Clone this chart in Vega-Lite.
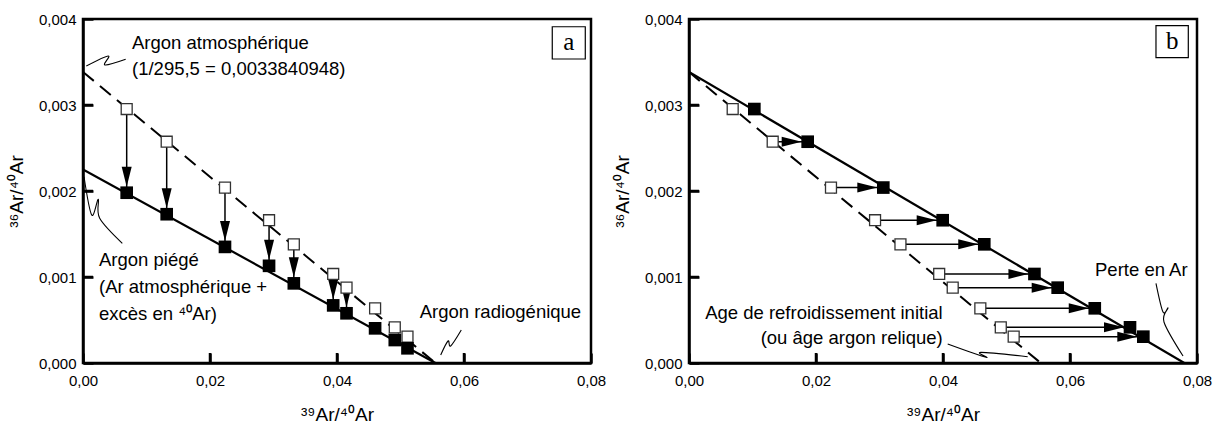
{
  "$schema": "https://vega.github.io/schema/vega-lite/v6.json",
  "padding": {"left": 6, "top": 10, "right": 0, "bottom": 0},
  "background": "white",
  "spacing": 5,
  "config": {
    "view": {"stroke": "black", "strokeWidth": 2.5},
    "axis": {
      "grid": false,
      "domainColor": "black",
      "domainWidth": 2.5,
      "ticks": true,
      "tickColor": "black",
      "tickWidth": 2.5,
      "tickSize": -10,
      "labelFlush": false,
      "labelFont": "Liberation Sans",
      "labelFontSize": 15,
      "labelColor": "black",
      "titleFont": "Liberation Sans",
      "titleFontSize": 19,
      "titleFontWeight": "normal",
      "titleColor": "black"
    },
    "axisX": {"labelPadding": 20, "titlePadding": 17},
    "axisY": {"labelPadding": 17, "titlePadding": 12},
    "text": {"font": "Liberation Sans", "fontSize": 18.5, "color": "black"}
  },
  "datasets": {
    "squares": [
      {"panel": "a", "kind": "open", "x": 0.00688, "y": 0.002953},
      {"panel": "a", "kind": "open", "x": 0.01318, "y": 0.002573},
      {"panel": "a", "kind": "open", "x": 0.02236, "y": 0.00204},
      {"panel": "a", "kind": "open", "x": 0.0293, "y": 0.00166},
      {"panel": "a", "kind": "open", "x": 0.0332, "y": 0.00138},
      {"panel": "a", "kind": "open", "x": 0.0394, "y": 0.001035},
      {"panel": "a", "kind": "open", "x": 0.0415, "y": 0.000876},
      {"panel": "a", "kind": "open", "x": 0.046, "y": 0.000636},
      {"panel": "a", "kind": "open", "x": 0.0491, "y": 0.000415},
      {"panel": "a", "kind": "open", "x": 0.0511, "y": 0.000306},
      {"panel": "a", "kind": "filled", "x": 0.00688, "y": 0.00198},
      {"panel": "a", "kind": "filled", "x": 0.01318, "y": 0.00173},
      {"panel": "a", "kind": "filled", "x": 0.02236, "y": 0.00135},
      {"panel": "a", "kind": "filled", "x": 0.0293, "y": 0.00113},
      {"panel": "a", "kind": "filled", "x": 0.0332, "y": 0.000926},
      {"panel": "a", "kind": "filled", "x": 0.0394, "y": 0.00067},
      {"panel": "a", "kind": "filled", "x": 0.0415, "y": 0.000578},
      {"panel": "a", "kind": "filled", "x": 0.046, "y": 0.000403},
      {"panel": "a", "kind": "filled", "x": 0.0491, "y": 0.000267},
      {"panel": "a", "kind": "filled", "x": 0.0511, "y": 0.000171},
      {"panel": "b", "kind": "open", "x": 0.00688, "y": 0.002953},
      {"panel": "b", "kind": "open", "x": 0.01318, "y": 0.002573},
      {"panel": "b", "kind": "open", "x": 0.02236, "y": 0.00204},
      {"panel": "b", "kind": "open", "x": 0.0293, "y": 0.00166},
      {"panel": "b", "kind": "open", "x": 0.0333, "y": 0.00138},
      {"panel": "b", "kind": "open", "x": 0.0394, "y": 0.001035},
      {"panel": "b", "kind": "open", "x": 0.04153, "y": 0.000876},
      {"panel": "b", "kind": "open", "x": 0.04588, "y": 0.000636},
      {"panel": "b", "kind": "open", "x": 0.0491, "y": 0.000415},
      {"panel": "b", "kind": "open", "x": 0.05113, "y": 0.000306},
      {"panel": "b", "kind": "filled", "x": 0.01029, "y": 0.002953},
      {"panel": "b", "kind": "filled", "x": 0.01869, "y": 0.002573},
      {"panel": "b", "kind": "filled", "x": 0.0306, "y": 0.00204},
      {"panel": "b", "kind": "filled", "x": 0.03995, "y": 0.00166},
      {"panel": "b", "kind": "filled", "x": 0.0465, "y": 0.00138},
      {"panel": "b", "kind": "filled", "x": 0.0544, "y": 0.001035},
      {"panel": "b", "kind": "filled", "x": 0.05806, "y": 0.000876},
      {"panel": "b", "kind": "filled", "x": 0.0639, "y": 0.000636},
      {"panel": "b", "kind": "filled", "x": 0.06945, "y": 0.000415},
      {"panel": "b", "kind": "filled", "x": 0.07155, "y": 0.000306}
    ],
    "lines": [
      {"panel": "a", "line": "dashed", "x": 0, "y": 0.003384},
      {"panel": "a", "line": "dashed", "x": 0.0555, "y": 0},
      {"panel": "a", "line": "solid", "x": 0, "y": 0.00225},
      {"panel": "a", "line": "solid", "x": 0.0555, "y": 0},
      {"panel": "b", "line": "dashed", "x": 0, "y": 0.003384},
      {"panel": "b", "line": "dashed", "x": 0.0554, "y": 0},
      {"panel": "b", "line": "solid", "x": 0, "y": 0.003384},
      {"panel": "b", "line": "solid", "x": 0.078, "y": 0}
    ],
    "arrows": [
      {"panel": "a", "x": 0.00688, "x2": 0.00688, "y": 0.002953, "y2": 0.00198},
      {"panel": "a", "x": 0.01318, "x2": 0.01318, "y": 0.002573, "y2": 0.00173},
      {"panel": "a", "x": 0.02236, "x2": 0.02236, "y": 0.00204, "y2": 0.00135},
      {"panel": "a", "x": 0.0293, "x2": 0.0293, "y": 0.00166, "y2": 0.00113},
      {"panel": "a", "x": 0.0332, "x2": 0.0332, "y": 0.00138, "y2": 0.000926},
      {"panel": "a", "x": 0.0394, "x2": 0.0394, "y": 0.001035, "y2": 0.00067},
      {"panel": "a", "x": 0.0415, "x2": 0.0415, "y": 0.000876, "y2": 0.000578},
      {"panel": "b", "x": 0.01318, "x2": 0.01869, "y": 0.002573, "y2": 0.002573},
      {"panel": "b", "x": 0.02236, "x2": 0.0306, "y": 0.00204, "y2": 0.00204},
      {"panel": "b", "x": 0.0293, "x2": 0.03995, "y": 0.00166, "y2": 0.00166},
      {"panel": "b", "x": 0.0333, "x2": 0.0465, "y": 0.00138, "y2": 0.00138},
      {"panel": "b", "x": 0.0394, "x2": 0.0544, "y": 0.001035, "y2": 0.001035},
      {"panel": "b", "x": 0.04153, "x2": 0.05806, "y": 0.000876, "y2": 0.000876},
      {"panel": "b", "x": 0.04588, "x2": 0.0639, "y": 0.000636, "y2": 0.000636},
      {"panel": "b", "x": 0.0491, "x2": 0.06945, "y": 0.000415, "y2": 0.000415},
      {"panel": "b", "x": 0.05113, "x2": 0.07155, "y": 0.000306, "y2": 0.000306}
    ],
    "leaders": [
      {"panel": "a", "id": "atm", "o": 1, "x": 0.00052, "y": 0.003453},
      {"panel": "a", "id": "atm", "o": 2, "x": 0.00398, "y": 0.00357},
      {"panel": "a", "id": "atm", "o": 3, "x": 0.00346, "y": 0.003465},
      {"panel": "a", "id": "atm", "o": 4, "x": 0.00672, "y": 0.003531},
      {"panel": "a", "id": "pie", "o": 1, "x": 0.00016, "y": 0.002166},
      {"panel": "a", "id": "pie", "o": 2, "x": 0.00137, "y": 0.001721},
      {"panel": "a", "id": "pie", "o": 3, "x": 0.00241, "y": 0.001903},
      {"panel": "a", "id": "pie", "o": 4, "x": 0.00263, "y": 0.001683},
      {"panel": "a", "id": "pie", "o": 5, "x": 0.00619, "y": 0.001392},
      {"panel": "a", "id": "rad", "o": 1, "x": 0.05633, "y": 0.000093},
      {"panel": "a", "id": "rad", "o": 2, "x": 0.05748, "y": 0.000256},
      {"panel": "a", "id": "rad", "o": 3, "x": 0.0579, "y": 0.000198},
      {"panel": "a", "id": "rad", "o": 4, "x": 0.05957, "y": 0.000384},
      {"panel": "b", "id": "age", "o": 1, "x": 0.04074, "y": 0.000221},
      {"panel": "b", "id": "age", "o": 2, "x": 0.04677, "y": 0.000066},
      {"panel": "b", "id": "age", "o": 3, "x": 0.04598, "y": 0.000124},
      {"panel": "b", "id": "age", "o": 4, "x": 0.05334, "y": 0.000073},
      {"panel": "b", "id": "per", "o": 1, "x": 0.07354, "y": 0.000927},
      {"panel": "b", "id": "per", "o": 2, "x": 0.07465, "y": 0.000593},
      {"panel": "b", "id": "per", "o": 3, "x": 0.07543, "y": 0.00064},
      {"panel": "b", "id": "per", "o": 4, "x": 0.0748, "y": 0.000477},
      {"panel": "b", "id": "per", "o": 5, "x": 0.0778, "y": 0.000081}
    ],
    "labels": [
      {"panel": "a", "align": "left", "text": "Argon atmosphérique", "x": 0.00772, "y": 0.003651},
      {"panel": "a", "align": "left", "text": "(1/295,5 = 0,0033840948)", "x": 0.00772, "y": 0.003349},
      {"panel": "a", "align": "left", "text": "Argon piégé", "x": 0.00252, "y": 0.001128},
      {"panel": "a", "align": "left", "text": "(Ar atmosphérique +", "x": 0.00252, "y": 0.000814},
      {"panel": "a", "align": "left", "text": "excès en ⁴⁰Ar)", "x": 0.00252, "y": 0.0005},
      {"panel": "a", "align": "left", "text": "Argon radiogénique", "x": 0.05302, "y": 0.000523},
      {"panel": "b", "align": "left", "text": "Perte en Ar", "x": 0.06394, "y": 0.001012},
      {"panel": "b", "align": "right", "text": "Age de refroidissement initial", "x": 0.03995, "y": 0.000512},
      {"panel": "b", "align": "right", "text": "(ou âge argon relique)", "x": 0.03995, "y": 0.000221}
    ],
    "boxes": [
      {"panel": "a", "lab": "a", "x": 0.0739, "x2": 0.0791, "y": 0.003535, "y2": 0.00391, "xm": 0.0765, "ym": 0.003722},
      {"panel": "b", "lab": "b", "x": 0.07354, "x2": 0.07863, "y": 0.00355, "y2": 0.003922, "xm": 0.076085, "ym": 0.003736}
    ]
  },
  "hconcat": [
    {
      "width": 508,
      "height": 344,
      "layer": [
        {
          "data": {"name": "lines"},
          "transform": [{"filter": "datum.panel === 'a' && datum.line === 'dashed'"}],
          "mark": {"type": "line", "color": "black", "strokeWidth": 2, "strokeDash": [14, 8], "clip": true},
          "encoding": {
            "x": {"field": "x", "type": "quantitative", "scale": {"domain": [0, 0.08], "nice": false}, "axis": {"values": [0, 0.02, 0.04, 0.06, 0.08], "labelExpr": "replace(format(datum.value, '.2f'), '.', ',')", "title": "³⁹Ar/⁴⁰Ar"}},
            "y": {"field": "y", "type": "quantitative", "scale": {"domain": [0, 0.004], "nice": false}, "axis": {"values": [0, 0.001, 0.002, 0.003, 0.004], "labelExpr": "replace(format(datum.value, '.3f'), '.', ',')", "title": "³⁶Ar/⁴⁰Ar"}}
          }
        },
        {
          "data": {"values": [{"tv": 0.02, "tb": 0}, {"tv": 0.04, "tb": 0}, {"tv": 0.06, "tb": 0}]},
          "mark": {"type": "point", "shape": "M0,0L0,-1", "size": 400, "filled": false, "stroke": "black", "strokeWidth": 2.5, "opacity": 1},
          "encoding": {
            "x": {"field": "tv", "type": "quantitative"},
            "y": {"field": "tb", "type": "quantitative"}
          }
        },
        {
          "data": {"values": [{"tv": 0.001, "tb": 0}, {"tv": 0.002, "tb": 0}, {"tv": 0.003, "tb": 0}]},
          "mark": {"type": "point", "shape": "M0,0L1,0", "size": 400, "filled": false, "stroke": "black", "strokeWidth": 2.5, "opacity": 1},
          "encoding": {
            "x": {"field": "tb", "type": "quantitative"},
            "y": {"field": "tv", "type": "quantitative"}
          }
        },
        {
          "data": {"name": "lines"},
          "transform": [{"filter": "datum.panel === 'a' && datum.line === 'solid'"}],
          "mark": {"type": "line", "color": "black", "strokeWidth": 2.2, "clip": true},
          "encoding": {
            "x": {"field": "x", "type": "quantitative"},
            "y": {"field": "y", "type": "quantitative"}
          }
        },
        {
          "data": {"name": "leaders"},
          "transform": [{"filter": "datum.panel === 'a'"}],
          "mark": {"type": "line", "color": "black", "strokeWidth": 1.1, "interpolate": "cardinal"},
          "encoding": {
            "x": {"field": "x", "type": "quantitative"},
            "y": {"field": "y", "type": "quantitative"},
            "detail": {"field": "id"},
            "order": {"field": "o"}
          }
        },
        {
          "data": {"name": "arrows"},
          "transform": [{"filter": "datum.panel === 'a'"}],
          "mark": {"type": "rule", "color": "black", "strokeWidth": 1.5},
          "encoding": {
            "x": {"field": "x", "type": "quantitative"},
            "y": {"field": "y", "type": "quantitative"},
            "y2": {"field": "y2"}
          }
        },
        {
          "data": {"name": "arrows"},
          "transform": [{"filter": "datum.panel === 'a'"}],
          "mark": {"type": "point", "shape": "M-0.5,-1L0.5,-1L0,1Z", "size": 400, "filled": true, "color": "black", "opacity": 1, "yOffset": -16},
          "encoding": {
            "x": {"field": "x2", "type": "quantitative"},
            "y": {"field": "y2", "type": "quantitative"}
          }
        },
        {
          "data": {"name": "squares"},
          "transform": [{"filter": "datum.panel === 'a' && datum.kind === 'open'"}],
          "mark": {"type": "point", "shape": "square", "size": 120, "filled": true, "fill": "white", "stroke": "#333", "strokeWidth": 1.3, "opacity": 1},
          "encoding": {
            "x": {"field": "x", "type": "quantitative"},
            "y": {"field": "y", "type": "quantitative"}
          }
        },
        {
          "data": {"name": "squares"},
          "transform": [{"filter": "datum.panel === 'a' && datum.kind === 'filled'"}],
          "mark": {"type": "point", "shape": "square", "size": 160, "filled": true, "color": "black", "opacity": 1},
          "encoding": {
            "x": {"field": "x", "type": "quantitative"},
            "y": {"field": "y", "type": "quantitative"}
          }
        },
        {
          "data": {"name": "labels"},
          "transform": [{"filter": "datum.panel === 'a'"}],
          "mark": {"type": "text", "align": "left", "baseline": "alphabetic"},
          "encoding": {
            "x": {"field": "x", "type": "quantitative"},
            "y": {"field": "y", "type": "quantitative"},
            "text": {"field": "text"}
          }
        },
        {
          "data": {"name": "boxes"},
          "transform": [{"filter": "datum.panel === 'a'"}],
          "mark": {"type": "rect", "fill": "white", "stroke": "black", "strokeWidth": 1.2},
          "encoding": {
            "x": {"field": "x", "type": "quantitative"},
            "x2": {"field": "x2"},
            "y": {"field": "y", "type": "quantitative"},
            "y2": {"field": "y2"}
          }
        },
        {
          "data": {"name": "boxes"},
          "transform": [{"filter": "datum.panel === 'a'"}],
          "mark": {"type": "text", "font": "Liberation Serif", "fontSize": 25, "align": "center", "baseline": "middle", "dy": -1},
          "encoding": {
            "x": {"field": "xm", "type": "quantitative"},
            "y": {"field": "ym", "type": "quantitative"},
            "text": {"field": "lab"}
          }
        }
      ]
    },
    {
      "width": 508,
      "height": 344,
      "layer": [
        {
          "data": {"name": "lines"},
          "transform": [{"filter": "datum.panel === 'b' && datum.line === 'dashed'"}],
          "mark": {"type": "line", "color": "black", "strokeWidth": 2, "strokeDash": [14, 8], "clip": true},
          "encoding": {
            "x": {"field": "x", "type": "quantitative", "scale": {"domain": [0, 0.08], "nice": false}, "axis": {"values": [0, 0.02, 0.04, 0.06, 0.08], "labelExpr": "replace(format(datum.value, '.2f'), '.', ',')", "title": "³⁹Ar/⁴⁰Ar"}},
            "y": {"field": "y", "type": "quantitative", "scale": {"domain": [0, 0.004], "nice": false}, "axis": {"values": [0, 0.001, 0.002, 0.003, 0.004], "labelExpr": "replace(format(datum.value, '.3f'), '.', ',')", "title": "³⁶Ar/⁴⁰Ar"}}
          }
        },
        {
          "data": {"values": [{"tv": 0.02, "tb": 0}, {"tv": 0.04, "tb": 0}, {"tv": 0.06, "tb": 0}]},
          "mark": {"type": "point", "shape": "M0,0L0,-1", "size": 400, "filled": false, "stroke": "black", "strokeWidth": 2.5, "opacity": 1},
          "encoding": {
            "x": {"field": "tv", "type": "quantitative"},
            "y": {"field": "tb", "type": "quantitative"}
          }
        },
        {
          "data": {"values": [{"tv": 0.001, "tb": 0}, {"tv": 0.002, "tb": 0}, {"tv": 0.003, "tb": 0}]},
          "mark": {"type": "point", "shape": "M0,0L1,0", "size": 400, "filled": false, "stroke": "black", "strokeWidth": 2.5, "opacity": 1},
          "encoding": {
            "x": {"field": "tb", "type": "quantitative"},
            "y": {"field": "tv", "type": "quantitative"}
          }
        },
        {
          "data": {"name": "lines"},
          "transform": [{"filter": "datum.panel === 'b' && datum.line === 'solid'"}],
          "mark": {"type": "line", "color": "black", "strokeWidth": 2.2, "clip": true},
          "encoding": {
            "x": {"field": "x", "type": "quantitative"},
            "y": {"field": "y", "type": "quantitative"}
          }
        },
        {
          "data": {"name": "leaders"},
          "transform": [{"filter": "datum.panel === 'b'"}],
          "mark": {"type": "line", "color": "black", "strokeWidth": 1.1, "interpolate": "cardinal"},
          "encoding": {
            "x": {"field": "x", "type": "quantitative"},
            "y": {"field": "y", "type": "quantitative"},
            "detail": {"field": "id"},
            "order": {"field": "o"}
          }
        },
        {
          "data": {"name": "arrows"},
          "transform": [{"filter": "datum.panel === 'b'"}],
          "mark": {"type": "rule", "color": "black", "strokeWidth": 1.5},
          "encoding": {
            "x": {"field": "x", "type": "quantitative"},
            "x2": {"field": "x2"},
            "y": {"field": "y", "type": "quantitative"}
          }
        },
        {
          "data": {"name": "arrows"},
          "transform": [{"filter": "datum.panel === 'b'"}],
          "mark": {"type": "point", "shape": "M-1,-0.5L1,0L-1,0.5Z", "size": 400, "filled": true, "color": "black", "opacity": 1, "xOffset": -16},
          "encoding": {
            "x": {"field": "x2", "type": "quantitative"},
            "y": {"field": "y2", "type": "quantitative"}
          }
        },
        {
          "data": {"name": "squares"},
          "transform": [{"filter": "datum.panel === 'b' && datum.kind === 'open'"}],
          "mark": {"type": "point", "shape": "square", "size": 120, "filled": true, "fill": "white", "stroke": "#333", "strokeWidth": 1.3, "opacity": 1},
          "encoding": {
            "x": {"field": "x", "type": "quantitative"},
            "y": {"field": "y", "type": "quantitative"}
          }
        },
        {
          "data": {"name": "squares"},
          "transform": [{"filter": "datum.panel === 'b' && datum.kind === 'filled'"}],
          "mark": {"type": "point", "shape": "square", "size": 160, "filled": true, "color": "black", "opacity": 1},
          "encoding": {
            "x": {"field": "x", "type": "quantitative"},
            "y": {"field": "y", "type": "quantitative"}
          }
        },
        {
          "data": {"name": "labels"},
          "transform": [{"filter": "datum.panel === 'b' && datum.align === 'left'"}],
          "mark": {"type": "text", "align": "left", "baseline": "alphabetic"},
          "encoding": {
            "x": {"field": "x", "type": "quantitative"},
            "y": {"field": "y", "type": "quantitative"},
            "text": {"field": "text"}
          }
        },
        {
          "data": {"name": "labels"},
          "transform": [{"filter": "datum.panel === 'b' && datum.align === 'right'"}],
          "mark": {"type": "text", "align": "right", "baseline": "alphabetic"},
          "encoding": {
            "x": {"field": "x", "type": "quantitative"},
            "y": {"field": "y", "type": "quantitative"},
            "text": {"field": "text"}
          }
        },
        {
          "data": {"name": "boxes"},
          "transform": [{"filter": "datum.panel === 'b'"}],
          "mark": {"type": "rect", "fill": "white", "stroke": "black", "strokeWidth": 1.2},
          "encoding": {
            "x": {"field": "x", "type": "quantitative"},
            "x2": {"field": "x2"},
            "y": {"field": "y", "type": "quantitative"},
            "y2": {"field": "y2"}
          }
        },
        {
          "data": {"name": "boxes"},
          "transform": [{"filter": "datum.panel === 'b'"}],
          "mark": {"type": "text", "font": "Liberation Serif", "fontSize": 25, "align": "center", "baseline": "middle", "dy": -1},
          "encoding": {
            "x": {"field": "xm", "type": "quantitative"},
            "y": {"field": "ym", "type": "quantitative"},
            "text": {"field": "lab"}
          }
        }
      ]
    }
  ]
}
